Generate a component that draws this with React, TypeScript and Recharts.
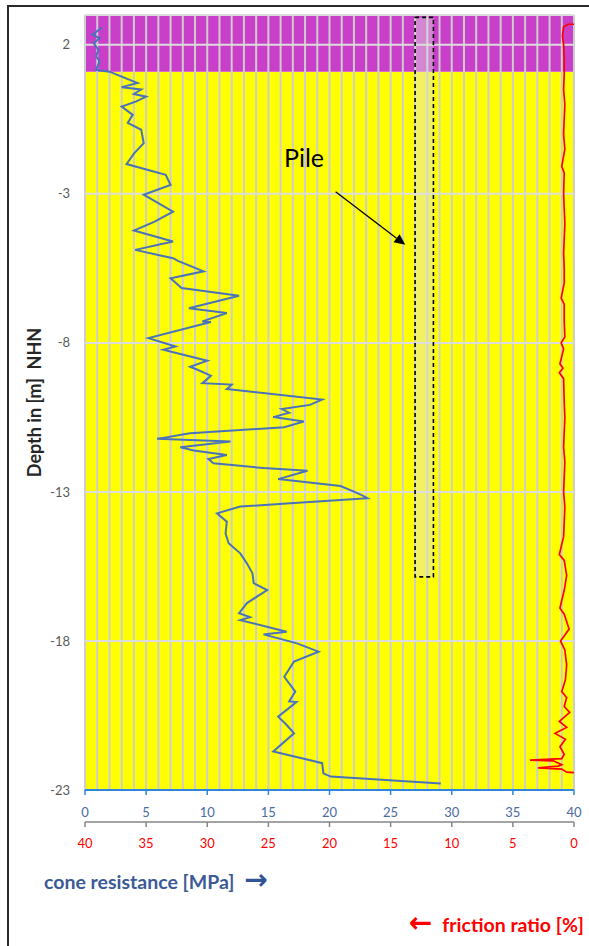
import React from 'react';
import { ScatterChart, Scatter, XAxis, YAxis, ReferenceArea, ReferenceLine } from 'recharts';

// cone resistance trace (depth in m NHN, qc in MPa)
const QC_DEPTH = [
    2.58, 2.34, 2.22, 2.06, 1.83, 1.61, 1.45, 1.16, 1.1, 0.72, 0.58, 0.5, 0.35, 0.26, 0.1, -0.07,
    -0.35, -0.62, -0.85, -1.3, -1.65, -2.0, -2.36, -2.7, -3.03, -3.6, -3.93, -4.23, -4.6, -4.88,
    -5.16, -5.25, -5.6, -5.83, -6.16, -6.42, -6.84, -7.0, -7.28, -7.3, -7.84, -8.12, -8.23, -8.6,
    -8.8, -8.9, -9.1, -9.35, -9.4, -9.55, -9.9, -10.08, -10.22, -10.34, -10.49, -10.64, -10.83,
    -11.03, -11.22, -11.31, -11.5, -11.61, -11.76, -11.9, -12.04, -12.2, -12.29, -12.57, -12.8,
    -12.99, -13.1, -13.21, -13.38, -13.49, -13.72, -14.0, -14.4, -14.72, -15.06, -15.4, -15.73,
    -16.06, -16.29, -16.73, -17.07, -17.2, -17.3, -17.69, -17.78, -18.08, -18.36, -18.69, -19.2,
    -19.7, -20.03, -20.05, -20.54, -20.82, -21.1, -21.71, -22.1, -22.44, -22.55, -22.78,
];
const QC_VALUE = [
    1.4, 0.6, 1.2, 0.7, 1.1, 0.9, 1.2, 0.9, 2.0, 4.3, 3.0, 4.6, 4.0, 5.0, 4.2, 3.0,
    3.9, 3.5, 4.6, 4.8, 4.0, 3.4, 6.6, 7.0, 4.8, 7.2, 5.7, 4.0, 7.2, 4.1,
    7.2, 7.6, 9.7, 7.0, 7.9, 12.6, 8.5, 11.6, 9.6, 10.3, 5.2, 7.4, 6.4, 10.0,
    8.6, 9.2, 10.3, 9.6, 12.0, 11.6, 19.4, 18.4, 16.1, 16.7, 15.4, 17.9, 16.3,
    8.6, 5.9, 11.9, 7.8, 8.9, 11.6, 10.1, 10.5, 14.6, 18.2, 15.8, 20.9,
    22.0, 22.6, 23.1, 16.8, 12.7, 10.8, 11.6, 11.5, 11.75, 12.7, 13.25, 13.7,
    13.8, 14.9, 13.25, 12.6, 13.5, 12.7, 16.5, 14.6, 17.35, 19.1, 17.1, 16.3,
    17.2, 16.7, 17.3, 15.8, 16.5, 17.1, 15.4, 19.4, 19.5, 20.1, 29.1,
];

// friction ratio trace (depth in m NHN, ratio in %)
const FR_DEPTH = [
    2.69, 2.69, 2.6, 2.3, 2.0, 1.5, 1.0, 0.5, 0.0, -0.5, -1.0, -1.5, -2.08, -2.3, -3.0, -3.5, -4.0,
    -4.5, -5.0, -5.5, -6.0, -6.5, -6.7, -7.3, -7.8, -8.0, -8.2, -8.7, -8.85, -9.0, -9.2, -10.0,
    -10.5, -11.0, -11.5, -12.0, -12.5, -13.0, -13.5, -14.0, -14.5, -15.1, -15.3, -15.8, -16.3,
    -16.9, -17.1, -17.6, -18.0, -18.3, -18.8, -19.3, -19.7, -19.9, -20.2, -20.4, -20.7, -20.9,
    -21.1, -21.3, -21.55, -21.8, -21.95, -22.0, -22.02, -22.15, -22.2, -22.26, -22.3, -22.4, -22.42,
];
const FR_VALUE = [
    0.0, 0.5, 0.85, 0.95, 0.85, 0.8, 0.8, 0.85, 0.75, 0.8, 0.85, 0.75, 1.0, 0.8, 0.85, 0.8, 0.75,
    0.8, 0.85, 0.8, 0.8, 1.05, 0.8, 0.8, 0.75, 1.05, 0.85, 1.15, 0.9, 1.2, 0.85, 0.8,
    0.75, 0.8, 0.85, 0.75, 0.8, 0.85, 0.75, 0.8, 0.85, 1.2, 0.8, 0.6, 0.8,
    1.15, 0.8, 0.4, 1.1, 0.75, 0.6, 0.7, 1.0, 0.6, 0.8, 0.35, 1.2, 0.6,
    1.55, 0.7, 1.15, 0.8, 1.0, 3.6, 1.7, 1.0, 1.3, 2.95, 1.0, 0.6, 0.0,
];

const DEPTH_TICKS = [2, -3, -8, -13, -18, -23];
const QC_TICKS = [0, 5, 10, 15, 20, 25, 30, 35, 40];
const FR_TICKS = [0, 5, 10, 15, 20, 25, 30, 35, 40];
const GRID_X = Array.from({ length: 41 }, (_, i) => i);
const GRID_Y = [3, 2, -3, -8, -13, -18];

// soil layers: [top, bottom]
const FILL_LAYER = [3, 1.1];
const SAND_LAYER = [1.1, -23];
// pile: [left, right] in MPa axis units, [top, bottom] depth
const PILE_X = [27, 28.5];
const PILE_Y = [2.92, -15.85];
const PILE_ARROW = [
    { x: 20.5, y: -2.93 },
    { x: 26.2, y: -4.71 },
];

const qcData = QC_DEPTH.map((depth, i) => ({ depth, qc: QC_VALUE[i] }));
const frData = FR_DEPTH.map((depth, i) => ({ depth, fr: FR_VALUE[i] }));

const FONT = 'Lato, "Open Sans", sans-serif';
const GRID_COLOR = '#cdcdcd';
// axis ids: "a" sits right under the plot, "b" below it
const QC_AXIS = 'a';
const FR_AXIS = 'b';

const ArrowShape = (props: any) => {
    const { x1, y1, x2, y2 } = props;
    const ang = Math.atan2(y2 - y1, x2 - x1);
    const len = 11;
    const w = 5;
    const bx = x2 - len * Math.cos(ang);
    const by = y2 - len * Math.sin(ang);
    const px = -Math.sin(ang) * w;
    const py = Math.cos(ang) * w;
    return (
        <g>
            <line x1={x1} y1={y1} x2={bx} y2={by} stroke="#000" strokeWidth={1.3} />
            <polygon points={`${x2},${y2} ${bx + px},${by + py} ${bx - px},${by - py}`} fill="#000" />
        </g>
    );
};

const NoPoint = () => <g />;

export default function App() {
    return (
        <div
            style={{
                position: 'absolute',
                left: 0,
                top: 0,
                width: 589,
                height: 946,
                overflow: 'hidden',
                background: '#fff',
                fontFamily: FONT,
            }}
        >
            <div
                style={{
                    position: 'absolute',
                    left: 7,
                    top: 5,
                    width: 700,
                    height: 1100,
                    border: '2px solid #2a2a2a',
                }}
            />
            <div style={{ position: 'absolute', left: 0, top: 0 }}>
                <ScatterChart width={589} height={860} margin={{ top: 15, right: 15, bottom: 8, left: 0 }}>
                    <XAxis
                        xAxisId={QC_AXIS}
                        type="number"
                        dataKey="qc"
                        domain={[0, 40]}
                        ticks={QC_TICKS}
                        interval={0}
                        allowDataOverflow
                        height={32}
                        tickSize={5}
                        tickMargin={13}
                        axisLine={{ stroke: '#2e86de', strokeWidth: 2 }}
                        tickLine={{ stroke: '#2e86de', strokeWidth: 1.5 }}
                        tick={{ fill: '#4a6aa3', fontSize: 13, fontFamily: FONT }}
                    />
                    <XAxis
                        xAxisId={FR_AXIS}
                        type="number"
                        dataKey="fr"
                        domain={[0, 40]}
                        reversed
                        ticks={FR_TICKS}
                        interval={0}
                        allowDataOverflow
                        height={30}
                        tickSize={5}
                        tickMargin={12}
                        axisLine={{ stroke: '#868686', strokeWidth: 1.5 }}
                        tickLine={{ stroke: '#868686', strokeWidth: 1.5 }}
                        tick={{ fill: '#ff0000', fontSize: 13, fontFamily: FONT }}
                    />
                    <YAxis
                        type="number"
                        dataKey="depth"
                        domain={[-23, 3]}
                        ticks={DEPTH_TICKS}
                        interval={0}
                        allowDataOverflow
                        width={85}
                        axisLine={false}
                        tickLine={false}
                        tickSize={6}
                        tickMargin={9}
                        tick={{ fill: '#595959', fontSize: 13, fontFamily: FONT }}
                        label={{
                            value: 'Depth in [m]\u00a0\u00a0NHN',
                            angle: -90,
                            position: 'center',
                            dx: -8,
                            style: { fill: '#262626', fontSize: 18, fontWeight: 700, fontFamily: FONT },
                        }}
                    />
                    <ReferenceArea
                        xAxisId={QC_AXIS}
                        x1={0}
                        x2={40}
                        y1={SAND_LAYER[1]}
                        y2={SAND_LAYER[0]}
                        fill="#ffff00"
                        fillOpacity={1}
                        ifOverflow="visible"
                    />
                    <ReferenceArea
                        xAxisId={QC_AXIS}
                        x1={0}
                        x2={40}
                        y1={FILL_LAYER[1]}
                        y2={FILL_LAYER[0]}
                        fill="#c93fc9"
                        fillOpacity={1}
                        ifOverflow="visible"
                    />
                    {GRID_X.map((v) => (
                        <ReferenceLine key={`gx${v}`} xAxisId={QC_AXIS} x={v} stroke={GRID_COLOR} strokeWidth={2} />
                    ))}
                    {GRID_Y.map((v) => (
                        <ReferenceLine key={`gy${v}`} xAxisId={QC_AXIS} y={v} stroke="#dcdcdc" strokeWidth={2} />
                    ))}
                    <ReferenceArea
                        xAxisId={QC_AXIS}
                        x1={PILE_X[0]}
                        x2={PILE_X[1]}
                        y1={PILE_Y[1]}
                        y2={PILE_Y[0]}
                        fill="#e0e0e0"
                        fillOpacity={0.45}
                        stroke="#000"
                        strokeWidth={1.6}
                        strokeDasharray="4 3"
                        zIndex={450}
                    />
                    <ReferenceLine xAxisId={QC_AXIS} segment={PILE_ARROW} shape={ArrowShape} ifOverflow="visible" />
                    <Scatter
                        xAxisId={QC_AXIS}
                        data={qcData}
                        line={{ stroke: '#4a72b8', strokeWidth: 2 }}
                        lineType="joint"
                        shape={NoPoint}
                        isAnimationActive={false}
                    />
                    <Scatter
                        xAxisId={FR_AXIS}
                        data={frData}
                        line={{ stroke: '#ff0000', strokeWidth: 1.7 }}
                        lineType="joint"
                        shape={NoPoint}
                        isAnimationActive={false}
                    />
                </ScatterChart>
            </div>
            <div
                style={{
                    position: 'absolute',
                    left: 284,
                    top: 143,
                    fontSize: 25,
                    lineHeight: '28px',
                    color: '#000',
                }}
            >
                Pile
            </div>
            <div
                style={{
                    position: 'absolute',
                    left: 44,
                    top: 866,
                    fontSize: 19.5,
                    lineHeight: '28px',
                    fontWeight: 700,
                    color: '#3c5a96',
                    whiteSpace: 'nowrap',
                }}
            >
                cone resistance [MPa]
                <span style={{ fontFamily: '"DejaVu Sans"', fontSize: 28, fontWeight: 700, color: '#2f5597', marginLeft: 10 }}>→</span>
            </div>
            <div
                style={{
                    position: 'absolute',
                    right: 5,
                    top: 909,
                    fontSize: 19.5,
                    lineHeight: '28px',
                    fontWeight: 700,
                    color: '#ff0000',
                    whiteSpace: 'nowrap',
                }}
            >
                <span style={{ fontFamily: '"DejaVu Sans"', fontSize: 28, fontWeight: 700, marginRight: 10 }}>←</span>
                friction ratio [%]
            </div>
        </div>
    );
}
